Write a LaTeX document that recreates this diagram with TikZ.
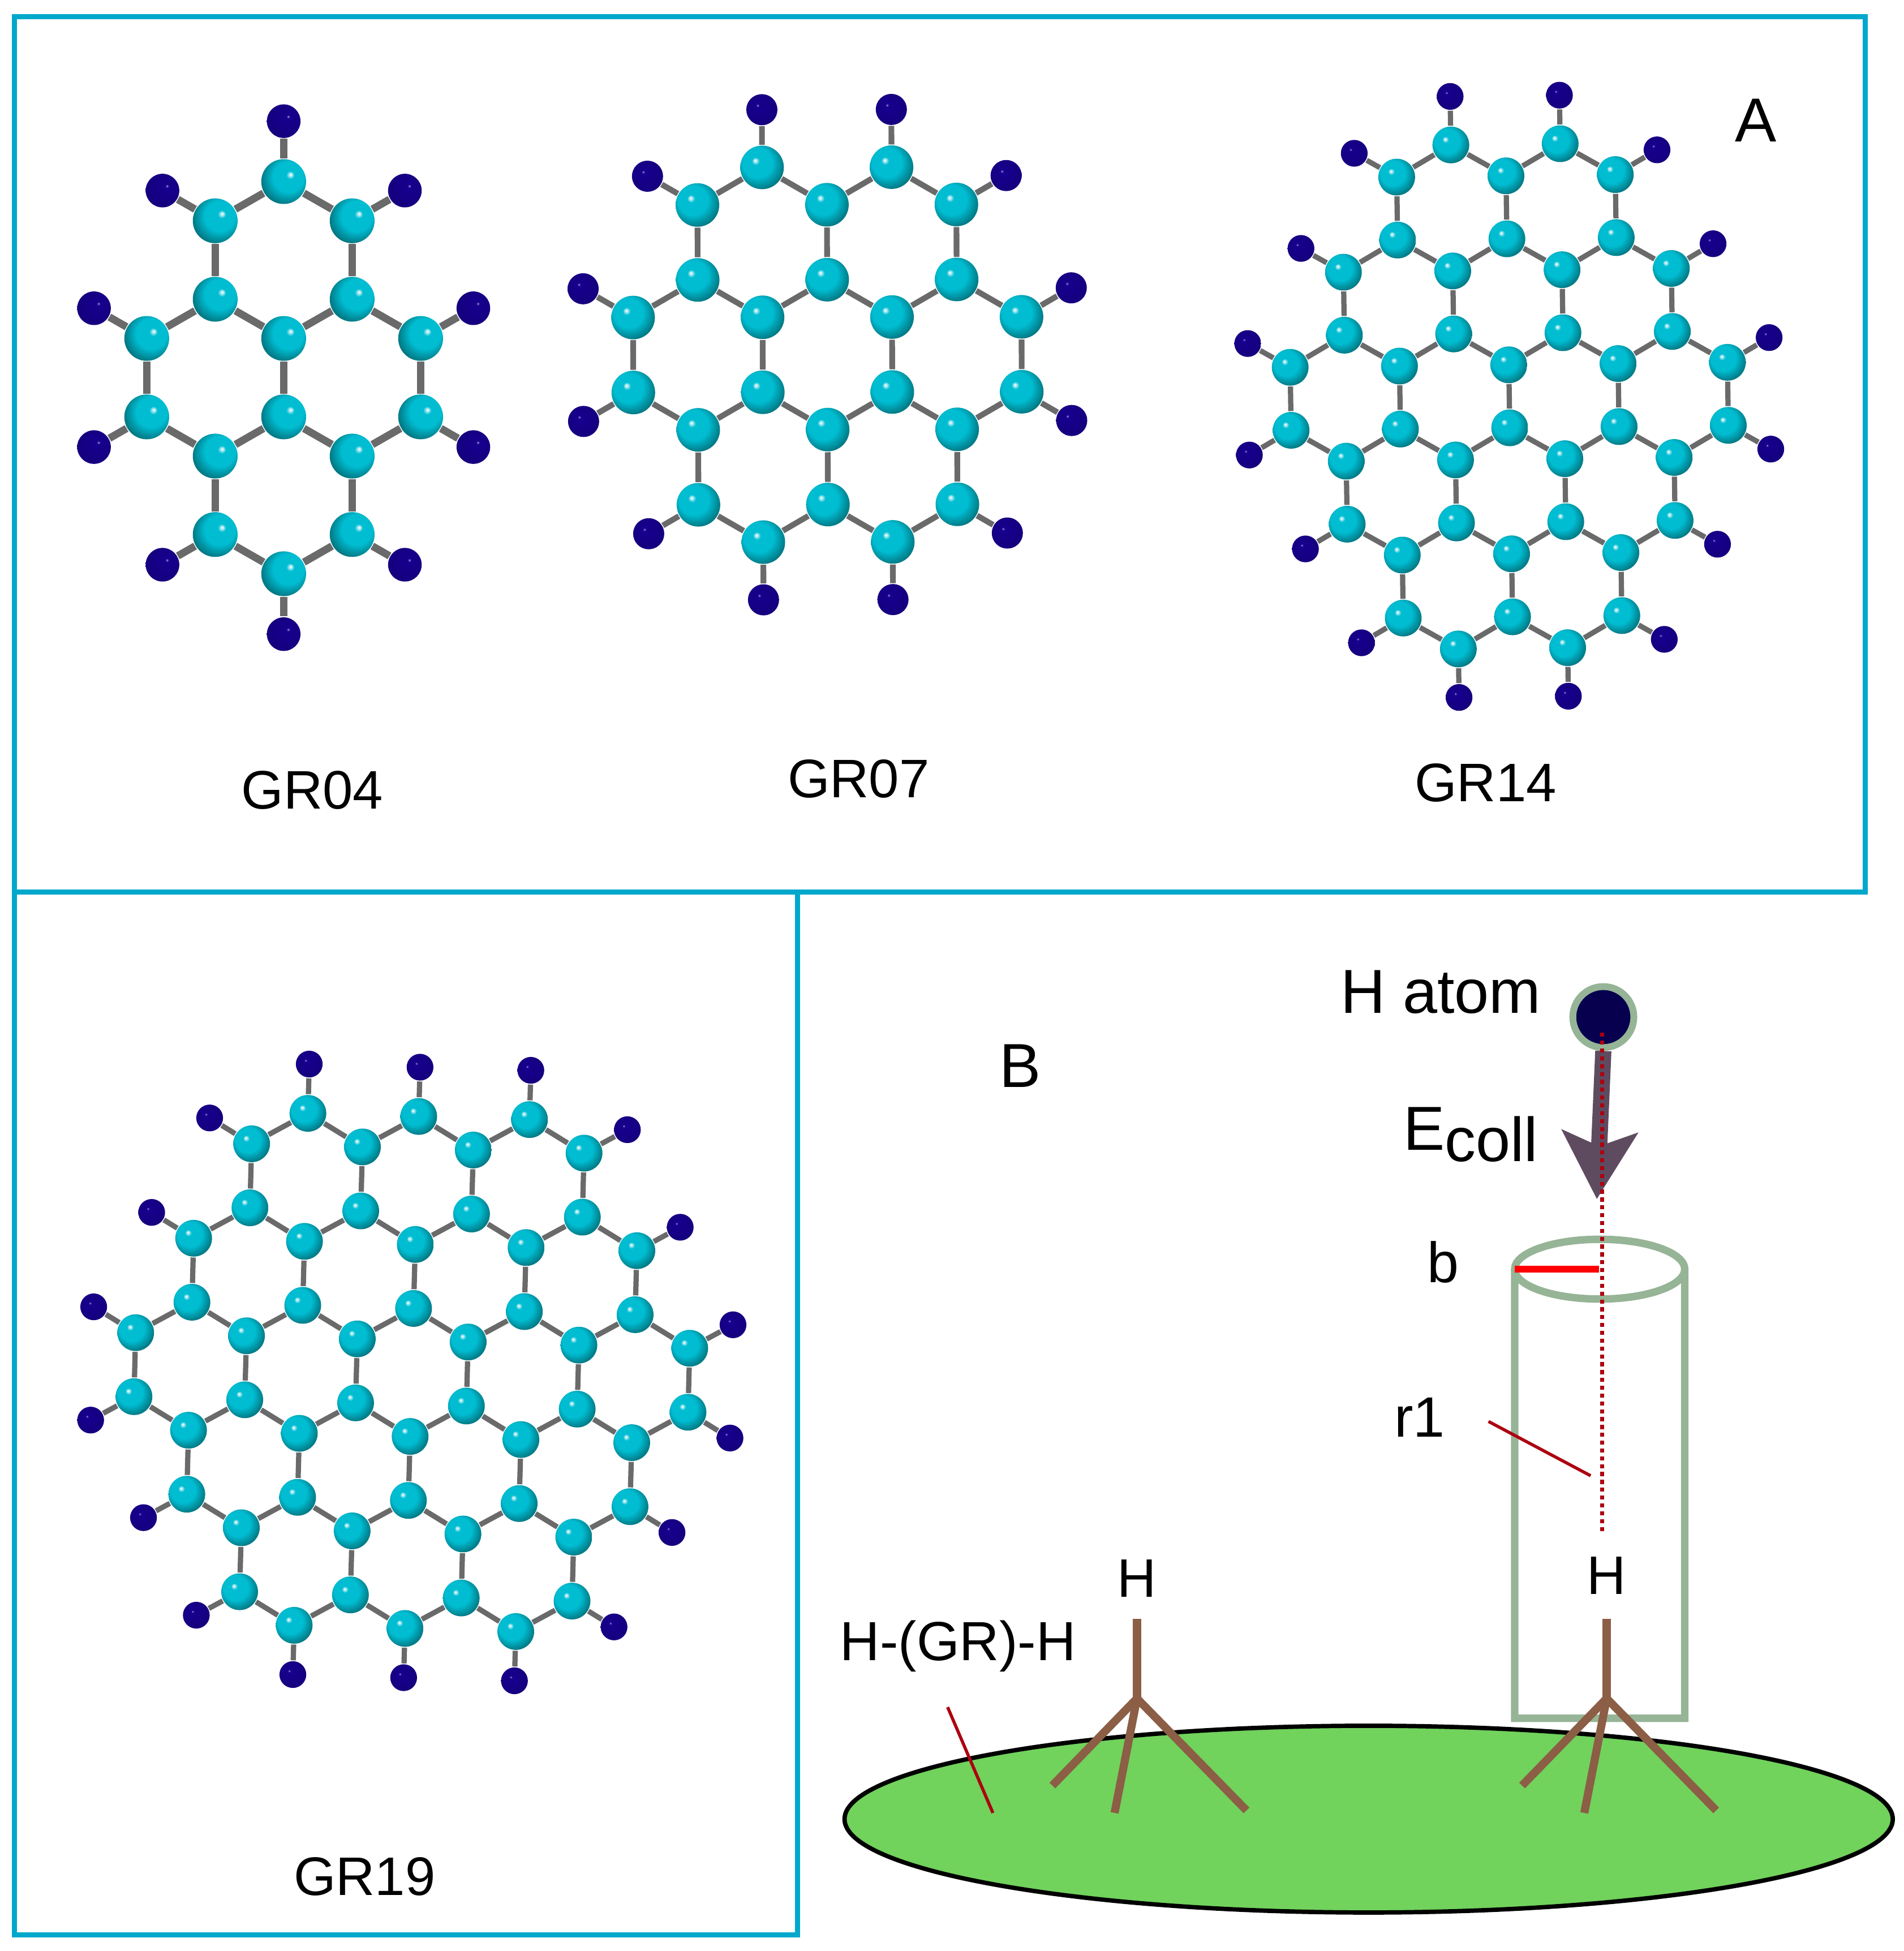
\documentclass[tikz,border=0pt]{standalone}
\usepackage{fontspec}
\setmainfont{Liberation Sans}
\usepackage{tikz}
\usetikzlibrary{arrows.meta, shapes.geometric}

\definecolor{frameblue}{HTML}{00A8CC}
\definecolor{carbonmain}{HTML}{00BDD2}
\definecolor{carbondark}{HTML}{006068}
\definecolor{hydromain}{HTML}{17008E}
\definecolor{bondgrey}{HTML}{6A6A6A}
\definecolor{sagegreen}{HTML}{96B496}
\definecolor{sheetgreen}{HTML}{71D25C}
\definecolor{stembrown}{HTML}{8B5E45}
\definecolor{plum}{HTML}{5F4B5F}
\definecolor{leadred}{HTML}{AC0010}
\definecolor{atomnavy}{HTML}{06004F}

\pgfdeclareradialshading{carbonleft}{\pgfpoint{-8bp}{8bp}}{color(0bp)=(white); color(2bp)=(white!60!carbonmain); color(4.5bp)=(carbonmain); color(17bp)=(carbonmain); color(33bp)=(carbondark); color(50bp)=(carbondark)}
\pgfdeclareradialshading{carbonright}{\pgfpoint{8bp}{8bp}}{color(0bp)=(white); color(2bp)=(white!60!carbonmain); color(4.5bp)=(carbonmain); color(17bp)=(carbonmain); color(33bp)=(carbondark); color(50bp)=(carbondark)}
\pgfdeclareradialshading{hydroleft}{\pgfpoint{-7bp}{7bp}}{color(0bp)=(white!60!hydromain); color(2.5bp)=(hydromain); color(50bp)=(hydromain!80!black)}
\pgfdeclareradialshading{hydroright}{\pgfpoint{7bp}{7bp}}{color(0bp)=(white!60!hydromain); color(2.5bp)=(hydromain); color(50bp)=(hydromain!80!black)}

% #1 name, #2 scope options, #3 y of the top row, #4 zigzag rows y/half width
\newcommand{\molecule}[4]{
  \begin{scope}[#2]
    \foreach \rw/\nn in {#4} \foreach \sgn in {-1,1} {
      \pgfmathtruncatemacro\ya{\sgn*\rw}
      \pgfmathtruncatemacro\yb{\sgn*(\rw-1)}
      \foreach \kk in {0,...,\nn} {
        \pgfmathtruncatemacro\col{2*\kk-\nn}
        \node[carbon] (#1c\col x\ya) at (\col,\ya) {};
      }
      \pgfmathtruncatemacro\mm{\nn+1}
      \foreach \kk in {0,...,\mm} {
        \pgfmathtruncatemacro\col{2*\kk-\mm}
        \node[carbon] (#1c\col x\yb) at (\col,\yb) {};
      }
    }
    \foreach \rw/\nn in {#4} \foreach \sgn in {-1,1} {
      \pgfmathtruncatemacro\ya{\sgn*\rw}
      \pgfmathtruncatemacro\yb{\sgn*(\rw-1)}
      \pgfmathtruncatemacro\yc{\sgn*(\rw-3)}
      \foreach \kk in {0,...,\nn} {
        \pgfmathtruncatemacro\col{2*\kk-\nn}
        \pgfmathtruncatemacro\cl{\col-1}
        \pgfmathtruncatemacro\cr{\col+1}
        \draw[bond] (#1c\col x\ya) -- (#1c\cl x\yb);
        \draw[bond] (#1c\col x\ya) -- (#1c\cr x\yb);
        \ifnum\rw=#3
          \node[hydro] (#1h\col x\ya) at (\col,\ya+\sgn*1.54) {};
          \draw[bond] (#1c\col x\ya) -- (#1h\col x\ya);
        \fi
      }
      \pgfmathtruncatemacro\mm{\nn+1}
      \foreach \kk in {0,...,\mm} {
        \pgfmathtruncatemacro\col{2*\kk-\mm}
        \ifnum\numexpr\rw+\sgn\relax=1 \else
          \draw[bond] (#1c\col x\yb) -- (#1c\col x\yc);
        \fi
      }
      \foreach \dd in {-1,1} {
        \pgfmathtruncatemacro\col{\dd*\mm}
        \node[hydro] (#1h\col x\yb) at (\col+\dd*.77,\yb+\sgn*.77) {};
        \draw[bond] (#1c\col x\yb) -- (#1h\col x\yb);
      }
    }
  \end{scope}
}

\begin{document}
\begin{tikzpicture}[
  x=.01cm, y=-.01cm,
  carbon/.style={circle, inner sep=0pt, minimum size=.295cm, shading=carbonleft},
  hydro/.style={circle, inner sep=0pt, minimum size=.215cm, shading=hydroleft},
  bond/.style={draw=bondgrey, line width=.042cm},
  boxframe/.style={draw=frameblue, line width=.04cm},
  tube/.style={draw=sagegreen, line width=.06cm},
  stem/.style={draw=stembrown, line width=.065cm},
  leader/.style={draw=leadred, line width=.025cm},
  smalltext/.style={anchor=base, inner sep=0pt, font=\fontsize{12.4}{14}\selectfont},
  bigtext/.style={anchor=base, inner sep=0pt, font=\fontsize{14.2}{16}\selectfont},
  midtext/.style={anchor=base, inner sep=0pt, font=\fontsize{13}{15}\selectfont}
]
\useasboundingbox (0,0) rectangle (1530,1568);

\draw[boxframe] (11.5,13.5) rectangle (1499,716.8);
\draw[boxframe] (11.5,716.8) rectangle (641,1555);

\molecule{gra}{shift={(228,303.5)}, x={(.55cm,0cm)}, y={(0cm,-.315cm)}, carbon/.append style={minimum size=.36cm, shading=carbonright},
  hydro/.append style={minimum size=.27cm, shading=hydroright}, bond/.append style={line width=.06cm}}{5}{5/0, 2/1}
\molecule{grb}{shift={(665,285)}, x={(.52cm,.001cm)}, y={(.001cm,-.301cm)}, carbon/.append style={minimum size=.35cm},
  hydro/.append style={minimum size=.25cm}, bond/.append style={line width=.046cm}}{5}{5/1, 2/2}
\molecule{grc}{shift={(1213,318.5)}, x={(.439cm,.005cm)}, y={(.00375cm,-.253cm)}}{8}{8/1, 5/2, 2/3}
\molecule{grd}{shift={(331,1103)}, x={(.445cm,-.0125cm)}, y={(-.0069cm,-.257cm)}}{8}{8/2, 5/3, 2/4}

\node[smalltext] (gr04) at (251,650) {GR04};
\node[smalltext] (gr07) at (690,641) {GR07};
\node[smalltext] (gr14) at (1194,644) {GR14};
\node[smalltext] (gr19) at (293,1523) {GR19};
\node[bigtext] (parta) at (1411,114) {A};
\node[bigtext] (partb) at (820,874) {B};

% the surface
\node[ellipse, draw=black, fill=sheetgreen, line width=.035cm, minimum width=8.42cm, minimum height=1.5cm, inner sep=0pt] (sheet) at (1100,1462) {};

% the cylinder
\node[ellipse, tube, outer sep=0pt, minimum width=1.366cm, minimum height=.48cm, inner sep=0pt] (rim) at (1285.7,1020) {};
\coordinate (baseleft) at (1217.4,1381);
\coordinate (baseright) at (1354,1381);
\draw[tube] (rim.west) -- (baseleft) -- (baseright) -- (rim.east);

% the incoming atom
\node[circle, draw=sagegreen, fill=atomnavy, line width=.055cm, minimum size=.49cm, inner sep=0pt] (hatom) at (1288.6,817.4) {};
\coordinate (falltip) at (1283.4,963.7);
\draw[draw=plum, fill=plum, line width=.13cm, -{Stealth[length=.54cm, width=.6cm, inset=.115cm]}] (hatom.south) -- (falltip);
\coordinate (dotstart) at (1287.6,830);
\coordinate (dotend) at (1287.6,1231);
\draw[leader, line width=.034cm, dash pattern=on .033cm off .03cm] (dotstart) -- (dotend);
\coordinate (rimcentre) at (1285,1020);
\draw[draw=red, line width=.055cm] (rim.west) -- (rimcentre);

\node[bigtext] (hlabel) at (1158,814) {H atom};
\node[bigtext] (ecoll) at (1182,924.4) {E\raisebox{-.09cm}{coll}};
\node[midtext] (blabel) at (1160,1030.6) {b};
\node[midtext] (rlabel) at (1141,1155) {r1};
\node[smalltext] (hl) at (913.8,1283.5) {H};
\node[smalltext] (hr) at (1291.3,1281.3) {H};
\node[smalltext, font=\fontsize{12.6}{15}\selectfont] (grlabel) at (770,1334.3) {H-(GR)-H};

\coordinate (rfrom) at (1196.3,1142.4);
\coordinate (rto) at (1278.4,1186);
\draw[leader] (rfrom) -- (rto);
\coordinate (gfrom) at (761.6,1372);
\coordinate (gto) at (798,1457);
\draw[leader] (gfrom) -- (gto);

\foreach \tree/\xa in {lt/913.8, rt/1291.3} {
  \coordinate (\tree a) at (\xa,1365);
  \coordinate (\tree t) at (\xa,1301);
  \coordinate (\tree l) at (\xa-68,1435);
  \coordinate (\tree m) at (\xa-18,1457);
  \coordinate (\tree r) at (\xa+88,1455);
  \draw[stem] (\tree a) -- (\tree t);
  \draw[stem] (\tree a) -- (\tree l);
  \draw[stem] (\tree a) -- (\tree m);
  \draw[stem] (\tree a) -- (\tree r);
}
\end{tikzpicture}
\end{document}
